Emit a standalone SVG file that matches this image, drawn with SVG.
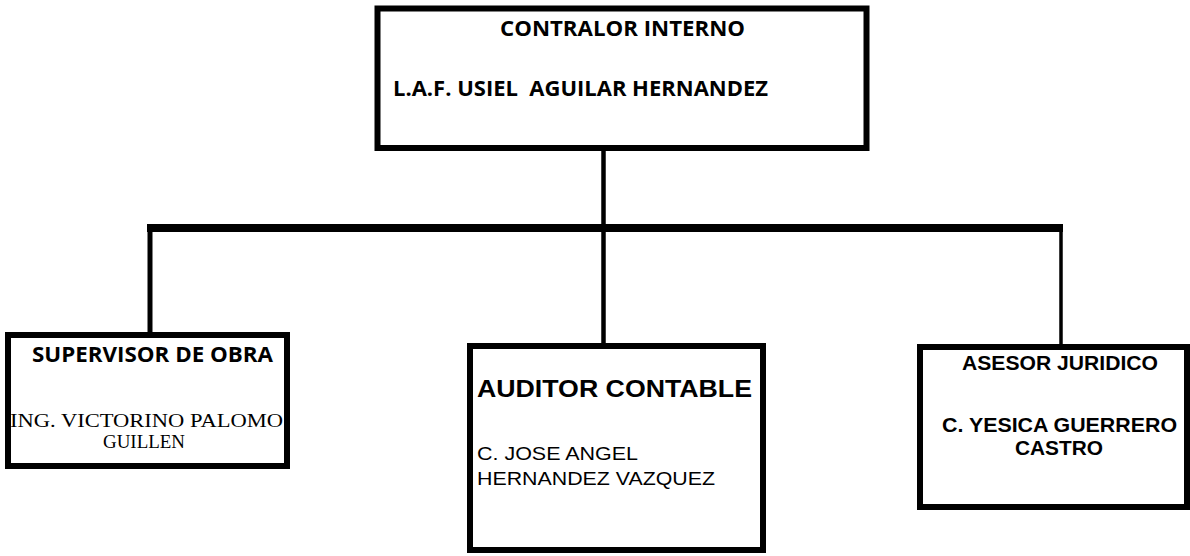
<svg xmlns="http://www.w3.org/2000/svg" width="1190" height="556" viewBox="0 0 1190 556">
<style>
.box{fill:#fff;stroke:#000;stroke-width:6}
.wire{stroke:#000;fill:none}
.cal{font-family:"Open Sans","Liberation Sans",sans-serif;font-weight:bold;fill:#000}
.ar{font-family:"Liberation Sans",Arial,sans-serif;fill:#000}
.arb{font-family:"Liberation Sans",Arial,sans-serif;font-weight:bold;fill:#000}
.tm{font-family:"Liberation Serif","Times New Roman",serif;fill:#000}
</style>
<rect width="1190" height="556" fill="#fff"/>
<g id="connectors">
<line class="wire" x1="603.5" y1="148" x2="603.5" y2="228" stroke-width="4.5"/>
<line class="wire" x1="147" y1="228" x2="1063" y2="228" stroke-width="8"/>
<line class="wire" x1="150" y1="228" x2="150" y2="335" stroke-width="5"/>
<line class="wire" x1="603.5" y1="228" x2="603.5" y2="346" stroke-width="4.5"/>
<line class="wire" x1="1061" y1="228" x2="1061" y2="347" stroke-width="3.5"/>
</g>
<g id="contralor">
<rect class="box" x="377.5" y="8.5" width="489" height="139.5" stroke-width="7"/>
<text class="cal" x="500" y="36" font-size="21" textLength="245" lengthAdjust="spacingAndGlyphs">CONTRALOR INTERNO</text>
<text class="cal" x="393" y="96" font-size="22" textLength="375" lengthAdjust="spacingAndGlyphs" xml:space="preserve">L.A.F. USIEL  AGUILAR HERNANDEZ</text>
</g>
<g id="supervisor">
<rect class="box" x="8" y="335" width="279" height="131"/>
<text class="cal" x="32" y="362" font-size="22" textLength="241" lengthAdjust="spacingAndGlyphs">SUPERVISOR DE OBRA</text>
<text class="tm" x="10" y="427" font-size="19" textLength="273" lengthAdjust="spacingAndGlyphs">ING. VICTORINO PALOMO</text>
<text class="tm" x="103" y="448" font-size="19" textLength="82" lengthAdjust="spacingAndGlyphs">GUILLEN</text>
</g>
<g id="auditor">
<rect class="box" x="470" y="346" width="293" height="204"/>
<text class="arb" x="477" y="397" font-size="24" textLength="275" lengthAdjust="spacingAndGlyphs">AUDITOR CONTABLE</text>
<text class="ar" x="477" y="460" font-size="18" textLength="161" lengthAdjust="spacingAndGlyphs">C. JOSE ANGEL</text>
<text class="ar" x="477" y="485" font-size="18" textLength="238" lengthAdjust="spacingAndGlyphs">HERNANDEZ VAZQUEZ</text>
</g>
<g id="asesor">
<rect class="box" x="920" y="347" width="267" height="160"/>
<text class="arb" x="962" y="370" font-size="20" textLength="196" lengthAdjust="spacingAndGlyphs">ASESOR JURIDICO</text>
<text class="arb" x="942" y="432" font-size="20" textLength="235" lengthAdjust="spacingAndGlyphs">C. YESICA GUERRERO</text>
<text class="arb" x="1015" y="455" font-size="20" textLength="88" lengthAdjust="spacingAndGlyphs">CASTRO</text>
</g>
</svg>
